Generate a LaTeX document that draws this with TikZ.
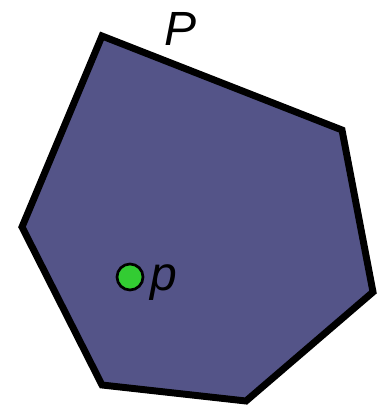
\documentclass[tikz,border=0pt]{standalone}
\usepackage{fontspec}
\setmainfont{Liberation Sans}
\usetikzlibrary{positioning}
\definecolor{flaeche}{HTML}{545488}
\definecolor{punkt}{HTML}{33CC33}

\begin{document}
\begin{tikzpicture}[
        x=0.75pt, y=-0.75pt,
        every node/.style={font=\fontsize{36}{40}\selectfont\itshape},
        rand/.style={line width=5.2pt, line join=miter, draw=black},
      ]
      \useasboundingbox (0,0) rectangle (383,409);

      % Polygon
      \coordinate (v1) at (102,36);
      \coordinate (v2) at (342,130);
      \coordinate (v3) at (373,292);
      \coordinate (v4) at (246,401);
      \coordinate (v5) at (102,385);
      \coordinate (v6) at (22,227);
      \draw[rand, fill=flaeche] (v1) -- (v2) -- (v3) -- (v4) -- (v5) -- (v6) -- cycle;
      \node (P) at (181,29) {P};

      % Punkt
      \node[circle, draw=black, line width=2pt, fill=punkt, minimum size=19.5pt,
            inner sep=0pt] (pt) at (130,277) {};
      \node[right=1pt of pt, yshift=-4pt] (plabel) {p};
    \end{tikzpicture}
\end{document}
